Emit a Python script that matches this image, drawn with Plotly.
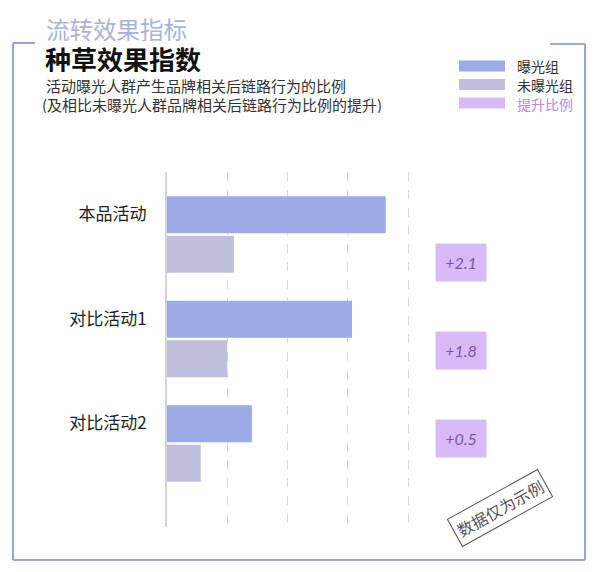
import plotly.graph_objects as go

# ---- data ----
categories = ["本品活动", "对比活动1", "对比活动2"]
exposed = [3.63, 3.07, 1.41]
unexposed = [1.11, 1.00, 0.56]
lift_labels = ["+2.1", "+1.8", "+0.5"]
legend_names = ["曝光组", "未曝光组", "提升比例"]
grid_ticks = [1, 2, 3, 4]

# ---- layout geometry ----
W, H = 600, 572
ML, MR, MT, MB = 167, 96, 172, 45
PW = W - ML - MR
PH = H - MT - MB
UNIT = 60.25
XMAX = PW / UNIT

def px(x):
    return (x - ML) / PW

def py(y):
    return (H - MB - y) / PH

C_EXP = "#9aabe6"
C_UNEXP = "#bfbfdb"
C_LIFT = "#dab9f7"
C_FRAME = "#7d8ecc"
CJK = "Noto Sans CJK SC"

fig = go.Figure()
fig.add_trace(go.Bar(y=categories, x=exposed, orientation="h", name=legend_names[0],
                     marker=dict(color=C_EXP, line=dict(width=0)), showlegend=False))
fig.add_trace(go.Bar(y=categories, x=unexposed, orientation="h", name=legend_names[1],
                     marker=dict(color=C_UNEXP, line=dict(width=0)), showlegend=False))

# band 104.5px per category; top of range at 172px, category0 centre at 234.5px
band = 104.5
r_top = -(234.5 - MT) / band
r_bot = r_top + PH / band

fig.update_layout(
    width=W, height=H,
    margin=dict(l=ML, r=MR, t=MT, b=MB, pad=0),
    paper_bgcolor="white", plot_bgcolor="white",
    barmode="group", bargap=0.244, bargroupgap=0.06,
    font=dict(family=CJK, color="#222"),
    xaxis=dict(range=[0, XMAX], tickvals=grid_ticks, showticklabels=False,
               showgrid=True, gridcolor="#d6d6d6", griddash="dash", gridwidth=1,
               zeroline=False, showline=False, ticks=""),
    yaxis=dict(type="category", categoryarray=categories, range=[r_bot, r_top],
               showline=True, linecolor="#d4d4d4", linewidth=2, ticks="",
               showgrid=False, ticklabelstandoff=15, ticklabelshift=20,
               tickfont=dict(family=CJK, size=17, color="#222")),
    yaxis2=dict(type="linear", overlaying="y", range=[-(262 - MT) / 88 + PH / 88, -(262 - MT) / 88],
                visible=False),
)

ann = []
# lift boxes
for i, t in enumerate(lift_labels):
    ann.append(dict(x=4.88, y=i, xref="x", yref="y2", text=t, showarrow=False,
                    bgcolor=C_LIFT, width=50, height=37, borderpad=0,
                    font=dict(family="Lato", size=16, color="#7b55b0", style="italic")))

# titles
ann.append(dict(x=px(44), y=py(29), xref="paper", yref="paper", xanchor="left", yanchor="middle",
                text="流转效果指标", showarrow=False, height=24,
                font=dict(family=CJK, size=23.5, color="#a8b2da")))
ann.append(dict(x=px(43), y=py(58.5), xref="paper", yref="paper", xanchor="left", yanchor="middle",
                text="<b>种草效果指数</b>", showarrow=False, height=27,
                font=dict(family=CJK, size=26, color="#111")))
ann.append(dict(x=px(44), y=py(84.5), xref="paper", yref="paper", xanchor="left", yanchor="middle",
                text="活动曝光人群产生品牌相关后链路行为的比例", showarrow=False, height=18,
                font=dict(family=CJK, size=15, color="#333")))
ann.append(dict(x=px(40), y=py(103.5), xref="paper", yref="paper", xanchor="left", yanchor="middle",
                text="(及相比未曝光人群品牌相关后链路行为比例的提升)", showarrow=False, height=18,
                font=dict(family=CJK, size=15, color="#333")))

# legend
shapes = []
leg_cols = [C_EXP, C_UNEXP, C_LIFT]
leg_txt = ["#333", "#333", "#b48ce0"]
for i, (nm, c, tc) in enumerate(zip(legend_names, leg_cols, leg_txt)):
    yc = 66 + i * 18.5
    shapes.append(dict(type="rect", xref="paper", yref="paper", x0=px(459), x1=px(505),
                       y0=py(yc - 5.5), y1=py(yc + 5.5), fillcolor=c, line=dict(width=0)))
    ann.append(dict(x=px(515), y=py(yc), xref="paper", yref="paper", xanchor="left", yanchor="middle",
                    text=nm, showarrow=False, height=17,
                    font=dict(family=CJK, size=14, color=tc)))

# watermark
ann.append(dict(x=px(500), y=py(508), xref="paper", yref="paper", xanchor="center", yanchor="middle",
                text="数据仅为示例",
                showarrow=False, textangle=-29, bordercolor="#555", borderwidth=1, borderpad=3,
                font=dict(family=CJK, size=16, color="#555")))

# frame
fl = dict(color=C_FRAME, width=1.6)
for (x0, y0, x1, y1) in [(13, 43, 35, 43), (13, 43, 13, 560), (13, 560, 585, 560),
                         (585, 44, 585, 560), (550, 44, 585, 44)]:
    shapes.append(dict(type="line", xref="paper", yref="paper", x0=px(x0), y0=py(y0),
                       x1=px(x1), y1=py(y1), line=fl))

fig.update_layout(annotations=ann, shapes=shapes)
fig.write_html("out.html")
